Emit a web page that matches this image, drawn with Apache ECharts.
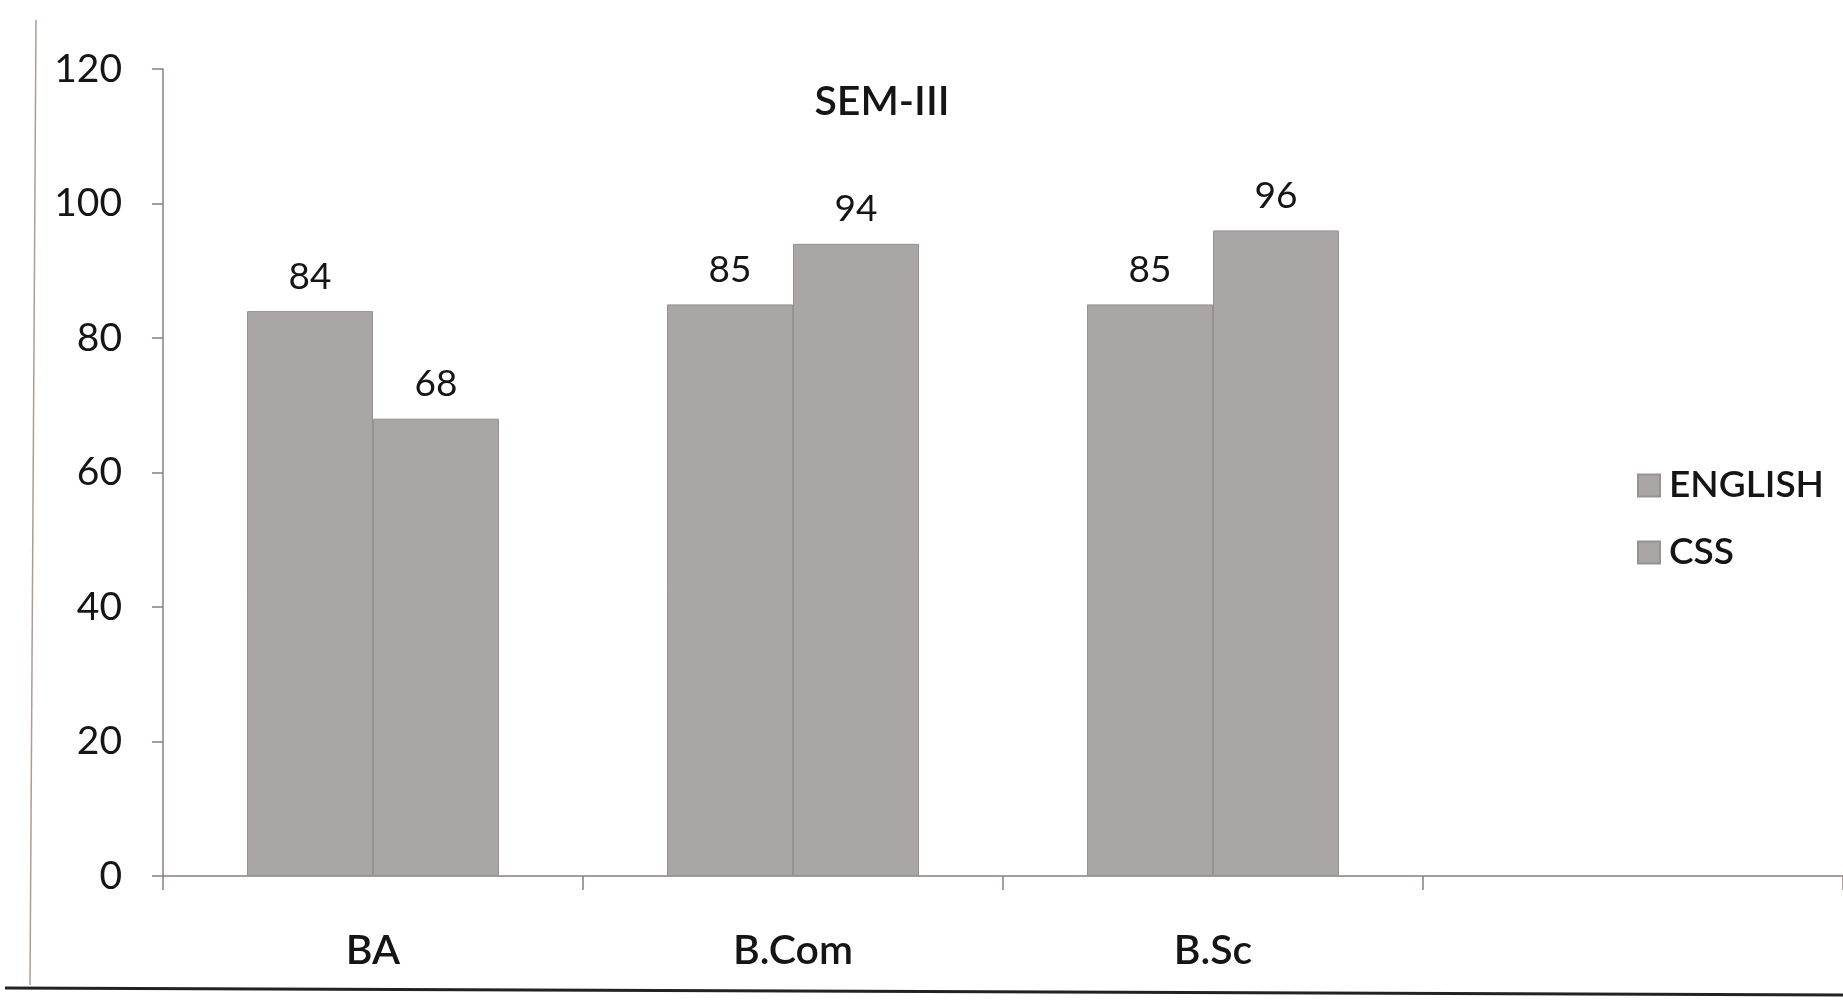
<!DOCTYPE html>
<html>
<head>
<meta charset="utf-8">
<script src="https://cdn.jsdelivr.net/npm/echarts@6/dist/echarts.min.js"></script>
<style>
html,body{margin:0;padding:0;background:#fff;}
#chart{width:1843px;height:1007px;}
</style>
</head>
<body>
<div id="chart"></div>
<script>
const categories = ['BA', 'B.Com', 'B.Sc', ''];
const englishValues = [84, 85, 85];
const cssValues = [68, 94, 96];
const yTicks = { min: 0, max: 120, interval: 20 };
const titleText = 'SEM-III';
const seriesNames = ['ENGLISH', 'CSS'];

const FONT = 'Lato, "Open Sans", sans-serif';
const barColor = '#aaa6a5';
const axisColor = '#8a7f7c';

const chart = echarts.init(document.getElementById('chart'));
const labelStyle = {
  show: true, position: 'top', distance: 16,
  fontFamily: FONT, fontSize: 37, color: '#151515'
};
chart.setOption({
  backgroundColor: '#ffffff',
  animation: false,
  title: {
    text: titleText, left: 877, top: 76, textAlign: 'center',
    textStyle: { fontFamily: FONT, fontSize: 41, fontWeight: 600, color: '#151515' }
  },
  legend: {
    orient: 'vertical', left: 1632, top: 462,
    itemWidth: 22, itemHeight: 22, itemGap: 30,
    icon: 'rect',
    textStyle: { fontFamily: FONT, fontSize: 37, fontWeight: 600, color: '#151515', padding: [0, 0, 0, 4] },
    data: seriesNames
  },
  grid: { left: 163, right: 0, top: 69, bottom: 131, containLabel: false },
  xAxis: {
    type: 'category', data: categories,
    axisLine: { lineStyle: { color: axisColor, width: 1.5 } },
    axisTick: { show: true, length: 14, alignWithLabel: false, lineStyle: { color: axisColor, width: 1.5 } },
    axisLabel: { margin: 54, fontFamily: FONT, fontSize: 41, fontWeight: 600, color: '#151515' },
    splitLine: { show: false }
  },
  yAxis: {
    type: 'value', min: yTicks.min, max: yTicks.max, interval: yTicks.interval,
    axisLine: { show: true, lineStyle: { color: axisColor, width: 1.5 } },
    axisTick: { show: true, length: 11, lineStyle: { color: axisColor, width: 1.5 } },
    axisLabel: { margin: 41, fontFamily: FONT, fontSize: 39, color: '#151515' },
    splitLine: { show: false }
  },
  series: [
    {
      name: seriesNames[0], type: 'bar', data: englishValues,
      barGap: '0%', barCategoryGap: '40%',
      itemStyle: { color: barColor, borderColor: '#979190', borderWidth: 1 },
      label: labelStyle
    },
    {
      name: seriesNames[1], type: 'bar', data: cssValues,
      barGap: '0%', barCategoryGap: '40%',
      itemStyle: { color: barColor, borderColor: '#979190', borderWidth: 1 },
      label: labelStyle
    }
  ],
  graphic: [
    { type: 'line', shape: { x1: 36, y1: 20, x2: 30, y2: 985 }, style: { stroke: '#b09a96', lineWidth: 1.5 } },
    { type: 'line', shape: { x1: 5, y1: 988, x2: 1843, y2: 995 }, style: { stroke: '#222', lineWidth: 3 } }
  ]
});
</script>
</body>
</html>
